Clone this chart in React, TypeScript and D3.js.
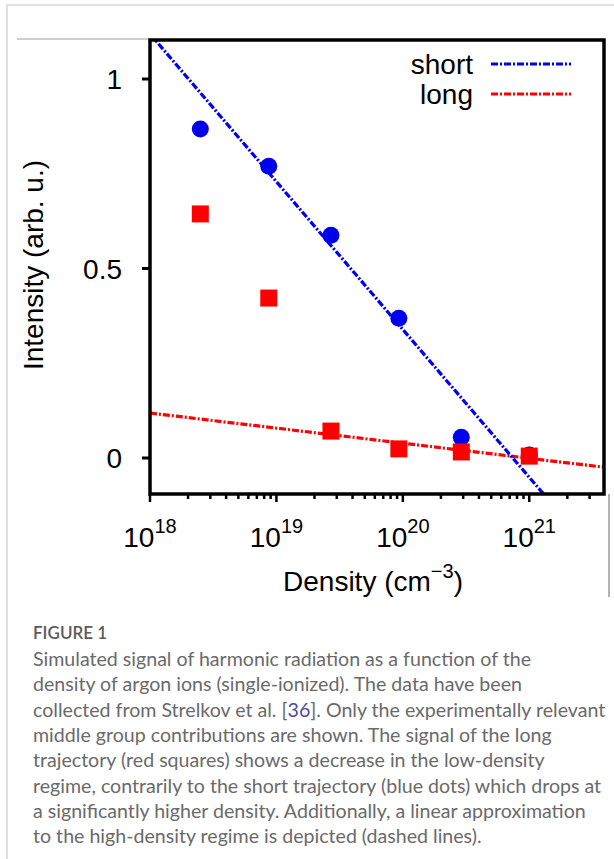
import React from "react";
import * as d3 from "d3";

// density in cm^-3
const densities = [2.5e18, 8.7e18, 2.7e19, 9.3e19, 2.9e20, 1e21];
const shortValues = [0.868, 0.77, 0.588, 0.369, 0.055, 0.008];
const longValues = [0.644, 0.422, 0.071, 0.024, 0.016, 0.005];

// linear approximation in log10(density): value = a + b * log10(n)
const shortFit = [8.139, -0.39];
const longFit = [0.835, -0.0398];

const yTicks = [0, 0.5, 1];
const yTickLabels = ["0", "0.5", "1"];
const xTickExps = [18, 19, 20, 21];

const legendNames = ["short", "long"];
const legendColors = ["#0000ee", "#ff0000"];

const captionTitle = "FIGURE 1";
const captionLines = [
  "Simulated signal of harmonic radiation as a function of the",
  "density of argon ions (single-ionized). The data have been",
  "collected from Strelkov et al. [36]. Only the experimentally relevant",
  "middle group contributions are shown. The signal of the long",
  "trajectory (red squares) shows a decrease in the low-density",
  "regime, contrarily to the short trajectory (blue dots) which drops at",
  "a significantly higher density. Additionally, a linear approximation",
  "to the high-density regime is depicted (dashed lines).",
];

const W = 614,
  H = 859;
const plot = { left: 150, right: 604, top: 40, bottom: 494 };
const chartFont = "'Liberation Sans', Arial, sans-serif";
const capFont = "Lato, 'Open Sans', sans-serif";
const dash = "7,2,2,2";

const x = d3.scaleLog().domain([1e18, 3.9e21]).range([plot.left, plot.right]);
const y = d3.scaleLinear().domain([0, 1]).range([458, 79]);

function fitLine(fit: number[]) {
  const d0 = x.domain()[0],
    d1 = x.domain()[1];
  const pts = [d0, d1].map((n) => [x(n), y(fit[0] + fit[1] * Math.log10(n))]);
  return d3.line()(pts as [number, number][]) || "";
}

function minorTicks() {
  const out: { v: number; major: boolean }[] = [];
  for (let e = 18; e <= 21; e++) {
    for (let m = 1; m <= 9; m++) {
      const v = m * Math.pow(10, e);
      if (v <= x.domain()[1]) out.push({ v, major: m === 1 });
    }
  }
  return out;
}

function renderCaptionLine(line: string) {
  const idx = line.indexOf("[36]");
  if (idx < 0) return line;
  return (
    <>
      {line.slice(0, idx)}[<tspan fill="#4a4aa8">36</tspan>]
      {line.slice(idx + 4)}
    </>
  );
}

export default function App() {
  const ticks = minorTicks();
  return (
    <svg
      width={W}
      height={H}
      style={{ position: "absolute", left: 0, top: 0, background: "#fff" }}
    >
      <defs>
        <clipPath id="plotClip">
          <rect
            x={plot.left}
            y={plot.top}
            width={plot.right - plot.left}
            height={plot.bottom - plot.top}
          />
        </clipPath>
      </defs>

      {/* page frame */}
      <path d={`M7,${H} V5 H${W}`} fill="none" stroke="#d8d8d8" strokeWidth={1.5} />
      <line x1={17} x2={plot.left} y1={39} y2={39} stroke="#a0a0a0" strokeWidth={1} />
      <line x1={609} x2={609} y1={plot.bottom} y2={597} stroke="#999" strokeWidth={1.5} />

      {/* fits */}
      <g clipPath="url(#plotClip)">
        <path d={fitLine(longFit)} stroke={legendColors[1]} strokeWidth={3.2} strokeDasharray={dash} fill="none" />
        <path d={fitLine(shortFit)} stroke={legendColors[0]} strokeWidth={3.2} strokeDasharray={dash} fill="none" />
      </g>

      {/* markers */}
      {densities.map((n, i) => (
        <circle key={"s" + i} cx={x(n)} cy={y(shortValues[i])} r={8.5} fill={legendColors[0]} />
      ))}
      {densities.map((n, i) => (
        <rect
          key={"l" + i}
          x={x(n) - 8.5}
          y={y(longValues[i]) - 8.5}
          width={17}
          height={17}
          fill={legendColors[1]}
        />
      ))}

      {/* frame */}
      <rect
        x={plot.left}
        y={plot.top}
        width={plot.right - plot.left}
        height={plot.bottom - plot.top}
        fill="none"
        stroke="#000"
        strokeWidth={3.5}
      />

      {/* y axis */}
      {yTicks.map((t, i) => (
        <g key={"yt" + i}>
          <line x1={plot.left - 8} x2={plot.left} y1={y(t)} y2={y(t)} stroke="#000" strokeWidth={3} />
          <text
            x={122}
            y={y(t) + 10}
            textAnchor="end"
            fontFamily={chartFont}
            fontSize={28}
          >
            {yTickLabels[i]}
          </text>
        </g>
      ))}

      {/* x axis */}
      {ticks.map((t, i) => (
        <line
          key={"xt" + i}
          x1={x(t.v)}
          x2={x(t.v)}
          y1={plot.bottom}
          y2={plot.bottom + (t.major ? 8 : 5)}
          stroke="#000"
          strokeWidth={2.5}
        />
      ))}
      {xTickExps.map((e) => (
        <text
          key={"xl" + e}
          x={x(Math.pow(10, e))}
          y={547}
          textAnchor="middle"
          fontFamily={chartFont}
          fontSize={28}
        >
          10
          <tspan fontSize={20} dy={-14}>
            {e}
          </tspan>
        </text>
      ))}

      <text x={373} y={591} textAnchor="middle" fontFamily={chartFont} fontSize={28}>
        Density (cm
        <tspan fontSize={20} dy={-13}>
          −3
        </tspan>
        <tspan dy={13}>)</tspan>
      </text>
      <text
        transform="translate(43,265) rotate(-90)"
        textAnchor="middle"
        fontFamily={chartFont}
        fontSize={28}
      >
        Intensity (arb. u.)
      </text>

      {/* legend */}
      {legendNames.map((name, i) => (
        <g key={name}>
          <text
            x={473}
            y={74 + i * 30}
            textAnchor="end"
            fontFamily={chartFont}
            fontSize={28}
          >
            {name}
          </text>
          <line
            x1={491}
            x2={571}
            y1={64 + i * 30}
            y2={64 + i * 30}
            stroke={legendColors[i]}
            strokeWidth={3}
            strokeDasharray={dash}
          />
        </g>
      ))}

      {/* caption */}
      <text x={33} y={639} fontFamily={capFont} fontSize={17} fontWeight={600} fill="#5a5a5a">
        {captionTitle}
      </text>
      {captionLines.map((line, i) => (
        <text
          key={"c" + i}
          x={33}
          y={666 + i * 25.3}
          fontFamily={capFont}
          fontSize={19.6}
          fill="#6a6a6a"
        >
          {renderCaptionLine(line)}
        </text>
      ))}
    </svg>
  );
}
